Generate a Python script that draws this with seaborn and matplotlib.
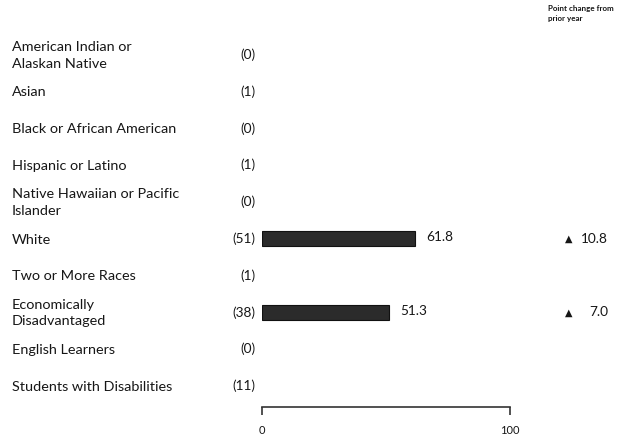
import matplotlib
matplotlib.use('Agg')
import matplotlib.pyplot as plt
import matplotlib.transforms as mtransforms
import numpy as np
import pandas as pd
import seaborn as sns

# Data
groups = ['American Indian or\nAlaskan Native', 'Asian', 'Black or African American',
          'Hispanic or Latino', 'Native Hawaiian or Pacific\nIslander', 'White',
          'Two or More Races', 'Economically\nDisadvantaged', 'English Learners',
          'Students with Disabilities']
counts = [0, 1, 0, 1, 0, 51, 1, 38, 0, 11]
scores = [np.nan, np.nan, np.nan, np.nan, np.nan, 61.8, np.nan, 51.3, np.nan, np.nan]
changes = [None, None, None, None, None, 10.8, None, 7.0, None, None]

df = pd.DataFrame({'group': groups, 'n': counts, 'score': scores})

sns.set_style('white')
plt.rcParams['font.family'] = ['Lato', 'DejaVu Sans']
text_color = '#161616'

fig = plt.figure(figsize=(6.21, 4.37), dpi=100)
ax = fig.add_axes([262 / 621, 1 - 407 / 437, 248 / 621, (407 - 29) / 437])

sns.barplot(data=df, x='score', y='group', orient='h', order=groups,
            color='#2b2b2b', edgecolor='#111111', linewidth=0.8, width=0.4,
            errorbar=None, ax=ax)

ax.set_xlim(0, 100)
ax.set_ylim(len(groups) - 1 + 0.57, -0.7)
ax.set_xticks([0, 100])
ax.set_xticklabels(['0', '100'], fontsize=8, color=text_color)
ax.set_yticks([])
ax.set_xlabel('')
ax.set_ylabel('')
for side in ['top', 'right', 'left']:
    ax.spines[side].set_visible(False)
ax.spines['bottom'].set_color('#333333')
ax.spines['bottom'].set_linewidth(1.2)
ax.tick_params(axis='x', direction='out', length=6, width=1.2, color='#333333', pad=7, bottom=True)

# left column: group names, counts
trans_fig_x = mtransforms.blended_transform_factory(fig.transFigure, ax.transData)
for i, (g, n) in enumerate(zip(groups, counts)):
    ax.text(12 / 621, i + 0.02, g, transform=trans_fig_x, ha='left', va='center',
            fontsize=10.4, color=text_color, linespacing=1.45)
    ax.text(-2.5, i, f'({n})', ha='right', va='center', fontsize=9.8, color=text_color)

# bar values and point changes
for i, (s, c) in enumerate(zip(scores, changes)):
    if not np.isnan(s):
        ax.text(s + 4.5, i - 0.05, f'{s:.1f}', ha='left', va='center', fontsize=9.8, color=text_color)
    if c is not None:
        ax.text(569 / 621, i, '\u25b2', transform=trans_fig_x, ha='center', va='center',
                fontsize=7, color=text_color, family=['DejaVu Sans'])
        ax.text(608 / 621, i, f'{c:.1f}', transform=trans_fig_x, ha='right', va='center',
                fontsize=9.8, color=text_color)

fig.text(548 / 621, 1 - 5 / 437, 'Point change from\nprior year', ha='left', va='top',
         fontsize=5.8, fontweight='bold', color=text_color, linespacing=1.45)

fig.savefig('out.png', dpi=100)
